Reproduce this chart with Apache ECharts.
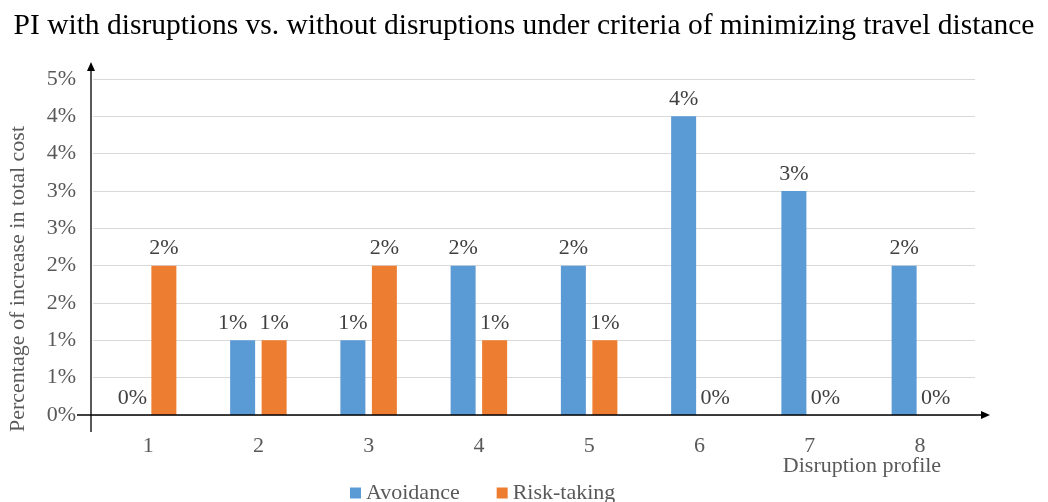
<!DOCTYPE html>
<html>
<head>
<meta charset="utf-8">
<script src="https://cdn.jsdelivr.net/npm/echarts@6/dist/echarts.min.js"></script>
<style>html,body{margin:0;padding:0;background:#fff;}#c{width:1048px;height:502px;}</style>
</head>
<body>
<div id="c"></div>
<script>
const categories = ['1', '2', '3', '4', '5', '6', '7', '8'];
const avoidance = [0, 1, 1, 2, 2, 4, 3, 2];
const riskTaking = [2, 1, 2, 1, 1, 0, 0, 0];
const yMin = 0, yMax = 4.5, yStep = 0.5;

const FONT = '"Liberation Serif", "Times New Roman", serif';
const chart = echarts.init(document.getElementById('c'), null, {renderer: 'canvas'});
const labelCfg = {
  show: true, position: 'top', distance: 6,
  fontFamily: FONT, fontSize: 22, color: '#404040',
  formatter: p => Math.round(p.value) + '%'
};
chart.setOption({
  animation: false,
  backgroundColor: '#fff',
  title: {
    text: 'PI with disruptions vs. without disruptions under criteria of minimizing travel distance',
    left: 'center', top: 6,
    textStyle: {fontFamily: FONT, fontSize: 29.5, fontWeight: 'normal', color: '#000'}
  },
  legend: {
    left: 345, top: 477,
    itemWidth: 11, itemHeight: 11, itemGap: 37,
    icon: 'rect',
    textStyle: {fontFamily: FONT, fontSize: 22, color: '#595959'},
    data: ['Avoidance', 'Risk-taking']
  },
  grid: {left: 93, right: 73, top: 79, bottom: 87, containLabel: false},
  xAxis: {
    type: 'category', data: categories,
    axisLine: {show: false}, axisTick: {show: false},
    axisLabel: {fontFamily: FONT, fontSize: 22, color: '#595959', margin: 20}
  },
  yAxis: {
    type: 'value', min: yMin, max: yMax, interval: yStep,
    axisLine: {show: false}, axisTick: {show: false},
    splitLine: {lineStyle: {color: '#d9d9d9', width: 1}},
    axisLabel: {fontFamily: FONT, fontSize: 22, color: '#595959', margin: 17,
      formatter: v => Math.round(v) + '%'}
  },
  series: [
    {name: 'Avoidance', type: 'bar', data: avoidance, barWidth: 25, barGap: '26%',
      itemStyle: {color: '#5b9bd5'}, label: labelCfg,
      labelLayout: p => (avoidance[p.dataIndex] === riskTaking[p.dataIndex] && avoidance[p.dataIndex] > 0) ? {dx: -10} : {}},
    {name: 'Risk-taking', type: 'bar', data: riskTaking, barWidth: 25, barGap: '26%',
      itemStyle: {color: '#ed7d31'}, label: labelCfg}
  ]
});

// Axis lines with arrows, positioned from the library's scales
const yZero = chart.convertToPixel({yAxisIndex: 0}, yMin);
const yTop = chart.convertToPixel({yAxisIndex: 0}, yMax);
const c0 = chart.convertToPixel({xAxisIndex: 0}, 0);
const c1 = chart.convertToPixel({xAxisIndex: 0}, 1);
const band = c1 - c0;
const xLeft = c0 - band / 2;
const xRight = c0 + band * (categories.length - 0.5);
const axX = xLeft - 2;
const xEnd = xRight + 15;
const yEnd = yTop - 17;
chart.setOption({
  graphic: [
    {type: 'line', shape: {x1: xLeft - 16, y1: yZero, x2: xEnd - 6, y2: yZero},
      style: {stroke: '#000', lineWidth: 1.3}, z: 50},
    {type: 'polygon', shape: {points: [[xEnd, yZero], [xEnd - 9, yZero - 4], [xEnd - 9, yZero + 4]]},
      style: {fill: '#000'}, z: 50},
    {type: 'line', shape: {x1: axX, y1: yZero + 17, x2: axX, y2: yEnd + 6},
      style: {stroke: '#000', lineWidth: 1.3}, z: 50},
    {type: 'polygon', shape: {points: [[axX, yEnd], [axX - 4, yEnd + 9], [axX + 4, yEnd + 9]]},
      style: {fill: '#000'}, z: 50},
    {type: 'text', x: 862, y: 466,
      style: {text: 'Disruption profile', font: '22px ' + FONT, fill: '#595959',
        textAlign: 'center', textVerticalAlign: 'middle'}, z: 50},
    {type: 'text', x: 18, y: 279, rotation: Math.PI / 2,
      style: {text: 'Percentage of increase in total cost', font: '22px ' + FONT, fill: '#595959',
        textAlign: 'center', textVerticalAlign: 'middle'}, z: 50}
  ]
});
</script>
</body>
</html>
